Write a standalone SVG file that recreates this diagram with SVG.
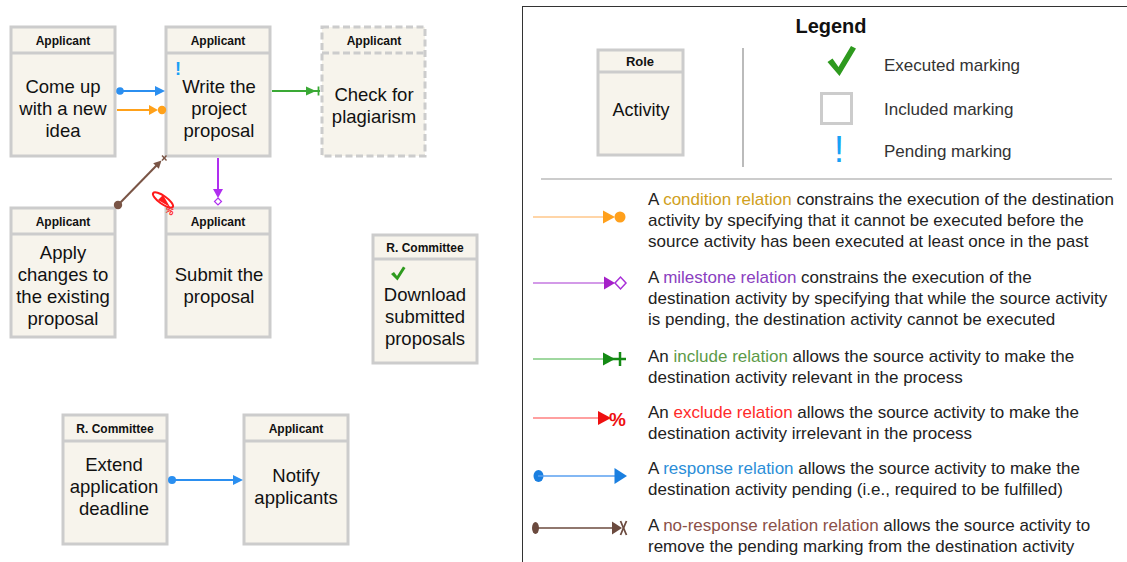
<svg xmlns="http://www.w3.org/2000/svg" width="1127" height="562" viewBox="0 0 1127 562">
<style>
text{font-family:"Liberation Sans",Arial,Helvetica,sans-serif}
.box{fill:#f7f4ec;stroke:#cccccc;stroke-width:3}
.dash{stroke-dasharray:7 3.5}
.sep{stroke:#cccccc;stroke-width:3}
.hdr{font-size:12px;font-weight:bold;fill:#111;text-anchor:middle}
.act{font-size:18.5px;fill:#111;text-anchor:middle}
.lg{font-size:17px;fill:#222}
.lbl{font-size:17px;fill:#333}
</style>
<rect width="1127" height="562" fill="#ffffff"/>

<g id="n-come-up">
<rect class="box" x="11" y="27" width="104" height="129"/>
<line class="sep" x1="11" y1="53" x2="115" y2="53"/>
<text class="hdr" x="63" y="45">Applicant</text>
<text class="act" x="63" y="93">Come up</text>
<text class="act" x="63" y="115">with a new</text>
<text class="act" x="63" y="137">idea</text>
</g>

<g id="n-write">
<rect class="box" x="166" y="27" width="104" height="129"/>
<line class="sep" x1="166" y1="53" x2="270" y2="53"/>
<text class="hdr" x="218" y="45">Applicant</text>
<text x="175" y="75" style="font-size:18px;font-weight:bold;fill:#1aa0f5">!</text>
<text class="act" x="219" y="93">Write the</text>
<text class="act" x="219" y="115">project</text>
<text class="act" x="219" y="137">proposal</text>
</g>

<g id="n-check">
<rect class="box dash" x="322" y="27" width="103" height="129"/>
<line class="sep dash" x1="322" y1="53" x2="425" y2="53"/>
<text class="hdr" x="374" y="45">Applicant</text>
<text class="act" x="374" y="101">Check for</text>
<text class="act" x="374" y="123">plagiarism</text>
</g>

<g id="n-apply">
<rect class="box" x="11" y="208" width="104" height="129"/>
<line class="sep" x1="11" y1="234" x2="115" y2="234"/>
<text class="hdr" x="63" y="226">Applicant</text>
<text class="act" x="63" y="259">Apply</text>
<text class="act" x="63" y="281">changes to</text>
<text class="act" x="63" y="303">the existing</text>
<text class="act" x="63" y="325">proposal</text>
</g>

<g id="n-submit">
<rect class="box" x="166" y="208" width="104" height="129"/>
<line class="sep" x1="166" y1="234" x2="270" y2="234"/>
<text class="hdr" x="218" y="226">Applicant</text>
<text class="act" x="219" y="281">Submit the</text>
<text class="act" x="219" y="303">proposal</text>
</g>

<g id="n-download">
<rect class="box" x="373" y="235" width="104" height="128"/>
<line class="sep" x1="373" y1="259" x2="477" y2="259"/>
<text class="hdr" x="425" y="252">R. Committee</text>
<path d="M391,274 L394,272 L397,276 L403,266.5 L405.5,268 L397.5,280.5 Z" fill="#2e9a1e"/>
<text class="act" x="425" y="301">Download</text>
<text class="act" x="425" y="323">submitted</text>
<text class="act" x="425" y="345">proposals</text>
</g>

<g id="n-extend">
<rect class="box" x="63" y="415" width="104" height="129"/>
<line class="sep" x1="63" y1="441" x2="167" y2="441"/>
<text class="hdr" x="115" y="433">R. Committee</text>
<text class="act" x="114" y="471">Extend</text>
<text class="act" x="114" y="493">application</text>
<text class="act" x="114" y="515">deadline</text>
</g>

<g id="n-notify">
<rect class="box" x="244" y="415" width="104" height="129"/>
<line class="sep" x1="244" y1="441" x2="348" y2="441"/>
<text class="hdr" x="296" y="433">Applicant</text>
<text class="act" x="296" y="482">Notify</text>
<text class="act" x="296" y="504">applicants</text>
</g>

<g id="connectors">
<circle cx="120" cy="91" r="3.8" fill="#2b8ff0"/>
<line x1="120" y1="91" x2="157" y2="91" stroke="#2b8ff0" stroke-width="2"/>
<polygon points="165,91 155,86 155,96" fill="#2b8ff0"/>
<line x1="117" y1="110" x2="151" y2="110" stroke="#ffa11a" stroke-width="2"/>
<polygon points="158,110 149,105 149,115" fill="#ffa11a"/>
<circle cx="162" cy="110" r="4.2" fill="#ffa11a"/>
<line x1="272" y1="91" x2="320" y2="91" stroke="#3aa935" stroke-width="2"/>
<polygon points="316,91 306,86.5 306,95.5" fill="#3aa935"/>
<line x1="318.5" y1="86.5" x2="318.5" y2="95.5" stroke="#3aa935" stroke-width="1.8"/>
<line x1="218" y1="158" x2="218" y2="191" stroke="#b02ef0" stroke-width="2"/>
<polygon points="218,198 213,189 223,189" fill="#b02ef0"/>
<polygon points="218,198 221.5,201.5 218,205 214.5,201.5" fill="#ffffff" stroke="#b02ef0" stroke-width="1.2"/>
<circle cx="118" cy="205" r="4.2" fill="#7a5546"/>
<line x1="118" y1="205" x2="157" y2="165" stroke="#7a5546" stroke-width="2"/>
<polygon points="161.5,160.5 158.8,168.8 153.2,163.2" fill="#7a5546"/>
<line x1="162" y1="155.5" x2="166.5" y2="160.5" stroke="#7a5546" stroke-width="1.4"/>
<line x1="166.5" y1="155.5" x2="162" y2="160.5" stroke="#7a5546" stroke-width="1.4"/>
<ellipse cx="163" cy="200" rx="12" ry="4" transform="rotate(35 163 200)" fill="none" stroke="#ff1a1a" stroke-width="2"/>
<polygon points="170,207 158,200 163,195" fill="#ff1a1a"/>
<text x="166" y="213" transform="rotate(30 168 209)" style="font-size:10px;font-weight:bold;fill:#ff1a1a">%</text>
<circle cx="172" cy="480" r="4" fill="#2b8ff0"/>
<line x1="172" y1="480" x2="235" y2="480" stroke="#2b8ff0" stroke-width="2"/>
<polygon points="243,480 233,475 233,485" fill="#2b8ff0"/>
</g>

<g id="legend">
<rect x="522.5" y="6.5" width="700" height="600" fill="#ffffff" stroke="#333333" stroke-width="1"/>
<text x="831" y="33" style="font-size:20px;font-weight:bold;fill:#111;text-anchor:middle">Legend</text>
<g id="legend-role">
<rect class="box" x="598" y="50" width="85" height="105"/>
<line class="sep" x1="598" y1="72" x2="683" y2="72"/>
<text x="640" y="66" style="font-size:13px;font-weight:bold;fill:#111;text-anchor:middle">Role</text>
<text x="641" y="116" style="font-size:18px;fill:#111;text-anchor:middle">Activity</text>
</g>
<line x1="743" y1="48" x2="743" y2="167" stroke="#bbbbbb" stroke-width="2"/>
<path d="M827.5,62 L832.5,58.5 L838.5,67 L851,46 L856,48.5 L839.5,76 Z" fill="#2e9a1e"/>
<rect x="821.5" y="93.5" width="30" height="30" fill="#ffffff" stroke="#cccccc" stroke-width="3"/>
<text x="839" y="162" style="font-size:36px;fill:#17a2f5;text-anchor:middle">!</text>
<text class="lbl" x="884" y="71">Executed marking</text>
<text class="lbl" x="884" y="115">Included marking</text>
<text class="lbl" x="884" y="157">Pending marking</text>
<line x1="541" y1="179" x2="1112" y2="179" stroke="#999999" stroke-width="1"/>

<line x1="533" y1="217" x2="606" y2="217" stroke="#ffc78a" stroke-width="1.5"/>
<polygon points="615,217 603,210.5 603,223.5" fill="#ffa01c"/>
<circle cx="620" cy="217" r="5.5" fill="#ffa01c"/>
<text class="lg" x="648" y="205">A <tspan fill="#d0a020">condition relation</tspan> constrains the execution of the destination</text>
<text class="lg" x="648" y="226">activity by specifying that it cannot be executed before the</text>
<text class="lg" x="648" y="247">source activity has been executed at least once in the past</text>

<line x1="533" y1="283" x2="606" y2="283" stroke="#c479e0" stroke-width="1.5"/>
<polygon points="615,283 604,276.5 604,289.5" fill="#a520c8"/>
<polygon points="615,283 620.5,277 626,283 620.5,289" fill="#ffffff" stroke="#a830d8" stroke-width="1.5"/>
<text class="lg" x="648" y="283">A <tspan fill="#8a40c0">milestone relation</tspan> constrains the execution of the</text>
<text class="lg" x="648" y="304">destination activity by specifying that while the source activity</text>
<text class="lg" x="648" y="325">is pending, the destination activity cannot be executed</text>

<line x1="533" y1="359" x2="604" y2="359" stroke="#a0d8a0" stroke-width="2"/>
<polygon points="615,359 603,352.5 603,365.5" fill="#148a14"/>
<line x1="612" y1="359" x2="626" y2="359" stroke="#148a14" stroke-width="2.5"/>
<line x1="620" y1="352" x2="620" y2="366" stroke="#148a14" stroke-width="2.5"/>
<text class="lg" x="648" y="362">An <tspan fill="#5c9a48">include relation</tspan> allows the source activity to make the</text>
<text class="lg" x="648" y="383">destination activity relevant in the process</text>

<line x1="533" y1="418" x2="600" y2="418" stroke="#ff8080" stroke-width="1.5"/>
<polygon points="611,418 598,411 598,425" fill="#ee1010"/>
<text x="609" y="425.5" style="font-size:19px;font-weight:bold;fill:#ee1010">%</text>
<text class="lg" x="648" y="418">An <tspan fill="#ff2a2a">exclude relation</tspan> allows the source activity to make the</text>
<text class="lg" x="648" y="439">destination activity irrelevant in the process</text>

<ellipse cx="538.5" cy="476" rx="5" ry="6" fill="#1a7fe0"/>
<line x1="538" y1="476" x2="616" y2="476" stroke="#5aa0f0" stroke-width="1.5"/>
<polygon points="627,476 614.5,468 614.5,484" fill="#1a7fe0"/>
<text class="lg" x="648" y="474">A <tspan fill="#2b8ed8">response relation</tspan> allows the source activity to make the</text>
<text class="lg" x="648" y="495">destination activity pending (i.e., required to be fulfilled)</text>

<ellipse cx="535.5" cy="528" rx="3.5" ry="6" fill="#6b4a3e"/>
<line x1="535" y1="528" x2="614" y2="528" stroke="#6b4a3e" stroke-width="1.5"/>
<polygon points="622,528 612,521.5 612,534.5" fill="#6b4a3e"/>
<line x1="620.5" y1="521" x2="626.5" y2="535" stroke="#6b4a3e" stroke-width="1.8"/>
<line x1="626.5" y1="521" x2="620.5" y2="535" stroke="#6b4a3e" stroke-width="1.8"/>
<text class="lg" x="648" y="531">A <tspan fill="#8b5048">no-response relation relation</tspan> allows the source activity to</text>
<text class="lg" x="648" y="552">remove the pending marking from the destination activity</text>
</g>
</svg>
